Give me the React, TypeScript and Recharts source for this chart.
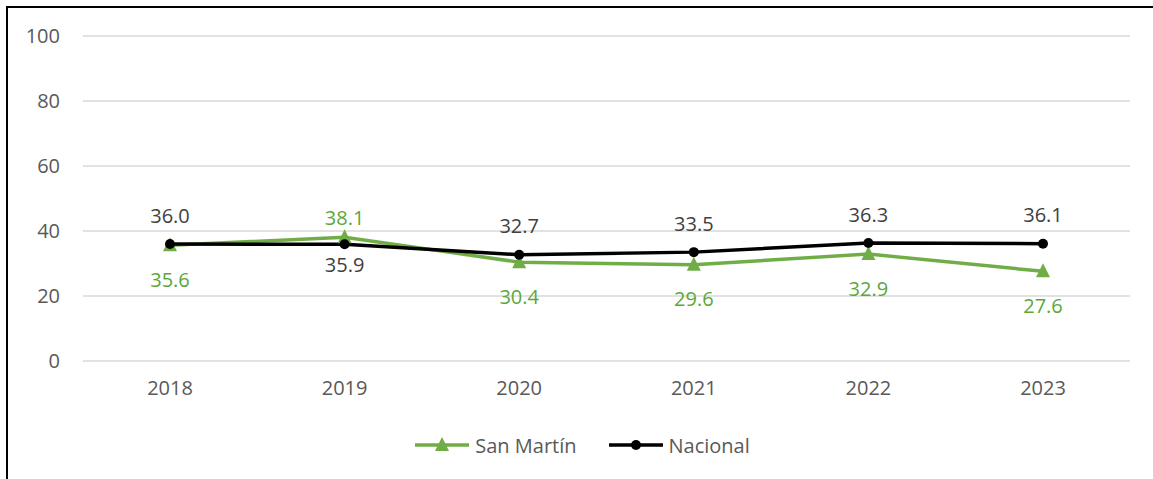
import React from "react";
import { LineChart, Line, XAxis, YAxis, CartesianGrid, LabelList } from "recharts";

const years = ["2018", "2019", "2020", "2021", "2022", "2023"];
const sanMartin = [35.6, 38.1, 30.4, 29.6, 32.9, 27.6];
const nacional = [36.0, 35.9, 32.7, 33.5, 36.3, 36.1];
const yTicks = [0, 20, 40, 60, 80, 100];

const GREEN = "#70ad47";
const GREEN_TEXT = "#5aa83a";
const BLACK = "#000000";
const TICK = "#595959";
const FONT = "'Open Sans', sans-serif";

const data = years.map((year, i) => ({
  year,
  sanMartin: sanMartin[i],
  nacional: nacional[i],
}));

// Excel pone cada etiqueta arriba o abajo según cuál serie quede encima
function makeLabel(color: string, above: (i: number) => boolean) {
  return (props: any) => {
    const { x, y, value, index } = props;
    const up = above(index);
    const dy = up ? (index === 1 ? -20 : -29) : index === 1 ? 20 : 34;
    return (
      <text
        x={x}
        y={y + dy}
        textAnchor="middle"
        dominantBaseline="central"
        fill={color}
        fontSize={20}
        fontFamily={FONT}
      >
        {Number(value).toFixed(1)}
      </text>
    );
  };
}

function Triangle(props: any) {
  const { cx, cy } = props;
  if (cx == null || cy == null) return null;
  return <path d={`M${cx},${cy - 8} L${cx + 7},${cy + 6} L${cx - 7},${cy + 6} Z`} fill={GREEN} />;
}

function Legend() {
  return (
    <div
      style={{
        position: "absolute",
        top: 430,
        left: 0,
        width: 1153,
        display: "flex",
        justifyContent: "center",
        alignItems: "center",
        fontFamily: FONT,
        fontSize: 20,
        color: TICK,
      }}
    >
      <svg width={56} height={30} style={{ marginLeft: 12 }}>
        <line x1={0} y1={15} x2={54} y2={15} stroke={GREEN} strokeWidth={3.5} />
        <path d="M27,7 L34,21 L20,21 Z" fill={GREEN} />
      </svg>
      <span style={{ marginLeft: 4 }}>San Martín</span>
      <svg width={56} height={30} style={{ marginLeft: 32 }}>
        <line x1={0} y1={15} x2={54} y2={15} stroke={BLACK} strokeWidth={3.5} />
        <circle cx={27} cy={15} r={5} fill={BLACK} />
      </svg>
      <span style={{ marginLeft: 4 }}>Nacional</span>
    </div>
  );
}

export default function App() {
  return (
    <div style={{ position: "relative", width: 1153, height: 479, background: "#fff", overflow: "hidden" }}>
      <style>{"body{margin:0}"}</style>
      <div
        style={{
          position: "absolute",
          left: 6,
          top: 6,
          width: 1160,
          height: 480,
          borderLeft: "2px solid #000",
          borderTop: "2px solid #000",
        }}
      />
      <LineChart
        width={1153}
        height={479}
        data={data}
        margin={{ top: 36, right: 23, left: 0, bottom: 78 }}
        style={{ position: "absolute", left: 0, top: 0 }}
      >
        <CartesianGrid stroke="#d9d9d9" strokeWidth={1.5} vertical={false} />
        <XAxis
          dataKey="year"
          height={40}
          padding={{ left: 87, right: 87 }}
          axisLine={false}
          tickLine={false}
          tickSize={0}
          tickMargin={20}
          tick={{ fill: TICK, fontSize: 20, fontFamily: FONT }}
        />
        <YAxis
          width={83}
          domain={[0, 100]}
          ticks={yTicks}
          axisLine={false}
          tickLine={false}
          tickSize={0}
          tickMargin={23}
          tick={{ fill: TICK, fontSize: 20, fontFamily: FONT }}
        />
        <Line
          dataKey="sanMartin"
          stroke={GREEN}
          strokeWidth={3.5}
          dot={<Triangle />}
          isAnimationActive={false}
        >
          <LabelList dataKey="sanMartin" content={makeLabel(GREEN_TEXT, (i) => i === 1)} />
        </Line>
        <Line
          dataKey="nacional"
          stroke={BLACK}
          strokeWidth={3.5}
          dot={{ r: 5, fill: BLACK, stroke: BLACK, strokeWidth: 0 }}
          isAnimationActive={false}
        >
          <LabelList dataKey="nacional" content={makeLabel("#404040", (i) => i !== 1)} />
        </Line>
      </LineChart>
      <Legend />
    </div>
  );
}
